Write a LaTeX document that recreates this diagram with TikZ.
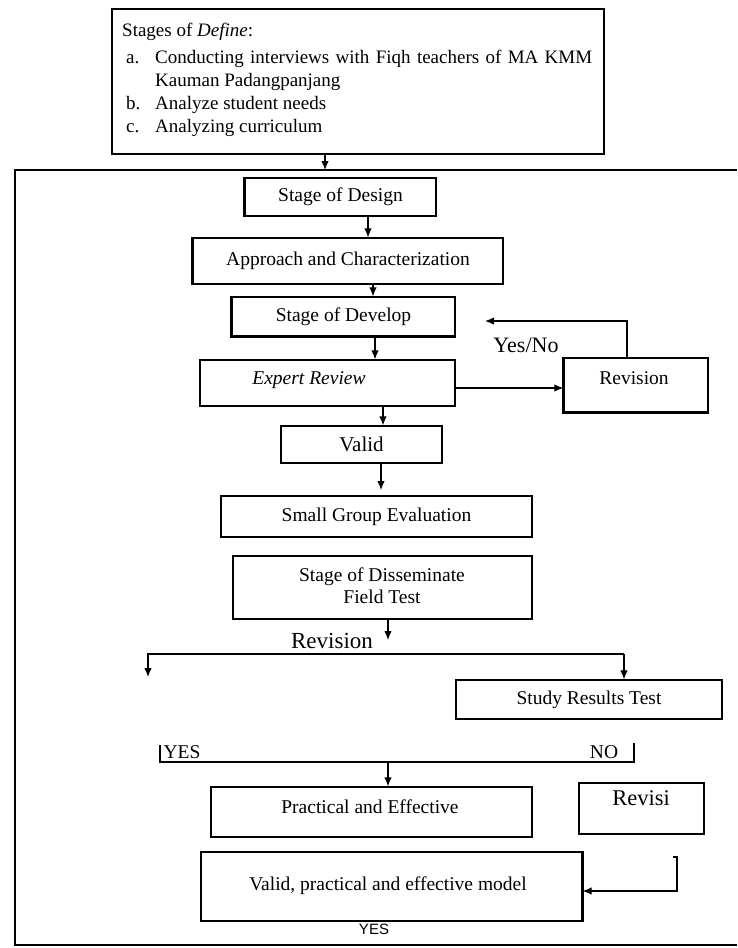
\documentclass[tikz,border=0pt]{standalone}
\usepackage{fontspec}
\setmainfont{Liberation Serif}
\newfontfamily\arialfont{Liberation Sans}
\usetikzlibrary{arrows.meta,calc}
\begin{document}
\begin{tikzpicture}[x=1pt,y=-1pt,
  box/.style={draw,line width=1.2pt,inner sep=0pt,align=center,font=\fontsize{19.5}{22}\selectfont},
  txt/.style={inner sep=0pt,align=center,font=\fontsize{19.5}{22}\selectfont},
  toptxt/.style={inner sep=0pt,anchor=base west,font=\fontsize{19}{22}\selectfont},
  tip/.style={-{Latex[length=9pt,width=7.5pt]}},
  arr/.style={line width=1.2pt,tip},
  ln/.style={line width=1.2pt},
  heavy/.style={line width=2.6pt}]
\useasboundingbox (0,0) rectangle (737,948);
\fill[white] (0,0) rectangle (737,948);

% Define box
\node[box,minimum width=492pt,minimum height=145pt] (define) at (358,81.5) {};
\node[toptxt] (defT) at (122,36) {Stages of \textit{Define}:};
\node[toptxt] (la) at (126,63) {a.};
\node[toptxt] (ta) at (155,63) {\makebox[437pt][s]{Conducting interviews with Fiqh teachers of MA KMM}};
\node[toptxt] (ta2) at (155,86) {Kauman Padangpanjang};
\node[toptxt] (lb) at (126,109) {b.};
\node[toptxt] (tb) at (155,109) {Analyze student needs};
\node[toptxt] (lc) at (126,132) {c.};
\node[toptxt] (tc) at (155,132) {Analyzing curriculum};

% frame
\draw[line width=1.2pt] (737,170) -- (15,170) -- (15,945) -- (737,945);
\coordinate (frametop) at (325,170);
\draw[arr] (define.south -| frametop) -- (frametop);

% main boxes
\node[box,minimum width=191pt,minimum height=38pt] (design) at (340.5,197) {Stage of Design};
\node[box,minimum width=310pt,minimum height=46pt] (approach) at (348,261) {Approach and Characterization};
\node[box,minimum width=223pt,minimum height=39pt] (develop) at (343.5,316.5) {Stage of Develop};
\node[box,minimum width=255pt,minimum height=46pt] (expert) at (327.5,383) {};
\node[txt] (expertT) at (309,380) {\textit{Expert Review}};
\node[box,minimum width=144pt,minimum height=54pt] (revision) at (636,385) {};
\node[txt] (revisionT) at (634,378) {Revision};
\node[box,minimum width=161pt,minimum height=37pt,font=\fontsize{21}{24}\selectfont] (valid) at (361.5,444.5) {Valid};
\node[box,minimum width=311pt,minimum height=41pt] (small) at (376.5,516.5) {Small Group Evaluation};
\node[box,minimum width=299pt,minimum height=63pt] (dissem) at (382.5,587.5) {};
\node[txt] (dissemT) at (382,586) {Stage of Disseminate\\Field Test};
\node[box,minimum width=266pt,minimum height=39pt] (study) at (589,699.5) {Study Results Test};
\node[box,minimum width=321pt,minimum height=50pt] (practical) at (371.5,812) {};
\node[txt] (practicalT) at (370,807) {Practical and Effective};
\node[box,minimum width=125pt,minimum height=51pt] (revisi) at (641.5,808.5) {};
\node[txt,font=\fontsize{22.5}{24}\selectfont] (revisiT) at (641,798) {Revisi};
\node[box,minimum width=381pt,minimum height=69pt] (model) at (391.5,886.5) {};
\node[txt] (modelT) at (388,886) {Valid, practical and effective model};

% heavy edges (shadows)
\draw[line width=2pt] (design.north west) -- (design.south west);
\draw[heavy] (approach.north west) -- (approach.south west);
\draw[heavy] (develop.north west) -- (develop.south west) -- (develop.south east);
\draw[heavy] (revision.north west) -- (revision.south west) -- (revision.south east);
\draw[heavy] (model.north east) -- (model.south east);

% labels
\node[txt,font=\fontsize{22}{24}\selectfont] (yesno) at (526,345) {Yes/No};
\node[txt,font=\fontsize{23}{24}\selectfont] (revlabel) at (332,641) {Revision};
\node[txt] (yes1) at (182,752) {YES};
\node[txt] (no1) at (604,752) {NO};
\node[txt,font=\arialfont\fontsize{15}{17}\selectfont] (yes2) at (374,929) {YES};

% connectors
\coordinate (c1) at (368,0);
\coordinate (c2) at (373,0);
\coordinate (c3) at (375,0);
\coordinate (c4) at (383,0);
\draw[arr] (design.south -| c1) -- (approach.north -| c1);
\draw[arr] (approach.south -| c2) -- (develop.north -| c2);
\draw[arr] (develop.south -| c3) -- (expert.north -| c3);
\draw[arr] (expert.south -| c4) -- (valid.north -| c4);
\coordinate (vs) at (381,490);
\draw[arr] (valid.south -| vs) -- (vs);
\coordinate (er) at (0,388);
\draw[arr] (expert.east |- er) -- (revision.west |- er);
\coordinate (yn) at (485,321);
\coordinate (rv) at (627,0);
\draw[arr] (revision.north -| rv) |- (yn);
\coordinate (dtip) at (388,640);
\draw[arr] (dissem.south -| dtip) -- (dtip);
\coordinate (bl) at (148,677);
\coordinate (br) at (624,654);
\draw[arr] (br) -- (bl |- br) -- (bl);
\draw[arr] (br) -- (study.north -| br);
\coordinate (yl) at (160,745);
\coordinate (yr) at (634,743);
\coordinate (ybar) at (0,762);
\draw[ln] (yl) -- (yl |- ybar) -- (yr |- ybar) -- (yr);
\coordinate (pa) at (388,762);
\draw[arr] (pa) -- (practical.north -| pa);
\coordinate (fb) at (673,857);
\coordinate (fbv) at (677,891);
\draw[arr] (fb) -- (fbv |- fb) -- (fbv) -- (model.east |- fbv);
\end{tikzpicture}
\end{document}
